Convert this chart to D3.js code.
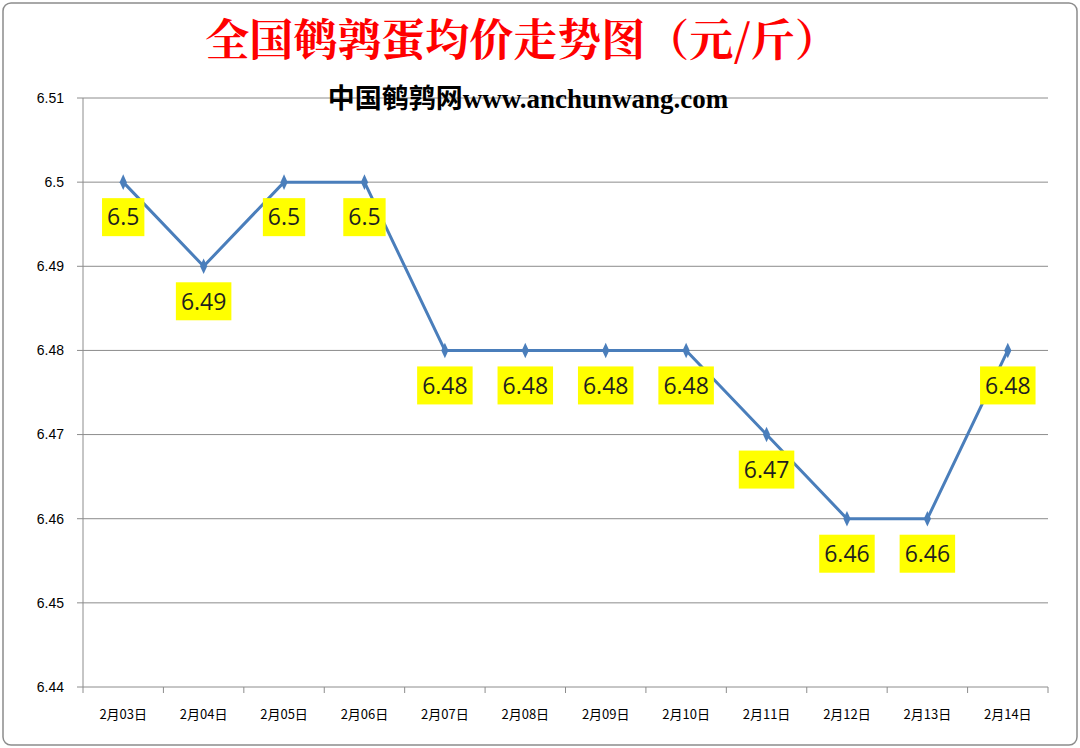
<!DOCTYPE html>
<html><head><meta charset="utf-8">
<script src="https://cdn.jsdelivr.net/npm/d3@7"></script>
<style>body{margin:0;background:#fff}</style>
</head><body>
<script>
const dates = ["2月03日","2月04日","2月05日","2月06日","2月07日","2月08日","2月09日","2月10日","2月11日","2月12日","2月13日","2月14日"];
const prices = [6.5, 6.49, 6.5, 6.5, 6.48, 6.48, 6.48, 6.48, 6.47, 6.46, 6.46, 6.48];
const yTicks = [6.44, 6.45, 6.46, 6.47, 6.48, 6.49, 6.5, 6.51];

const width = 1080, height = 748;
const svg = d3.select("body").append("svg").attr("width", width).attr("height", height);

svg.append("rect").attr("x", 3).attr("y", 3).attr("width", width - 6).attr("height", height - 6)
  .attr("rx", 8).attr("fill", "#fff").attr("stroke", "#8c8c8c").attr("stroke-width", 1.5);

const x = d3.scaleBand().domain(dates).range([83, 1048]);
const y = d3.scaleLinear().domain([6.44, 6.51]).range([687, 98]);

// Gridlines
svg.append("g").selectAll("line").data(yTicks).join("line")
  .attr("x1", 83).attr("x2", 1048)
  .attr("y1", d => y(d)).attr("y2", d => y(d))
  .attr("stroke", "#8c8c8c").attr("stroke-width", 1);

// Y axis
svg.append("line").attr("x1", 83).attr("x2", 83).attr("y1", 98).attr("y2", 687).attr("stroke", "#8c8c8c");
svg.append("g").selectAll("line").data(yTicks).join("line")
  .attr("x1", 77).attr("x2", 83).attr("y1", d => y(d)).attr("y2", d => y(d)).attr("stroke", "#8c8c8c");
svg.append("g").selectAll("text").data(yTicks).join("text")
  .attr("x", 64).attr("y", d => y(d)).attr("dy", "0.35em").attr("text-anchor", "end")
  .style("font", "14px 'Liberation Sans', sans-serif").text(d => d3.format("")(+d.toFixed(2)));

// X axis ticks between categories
svg.append("g").selectAll("line").data(dates.concat(["end"])).join("line")
  .attr("x1", (d, i) => 83 + i * x.step()).attr("x2", (d, i) => 83 + i * x.step())
  .attr("y1", 687).attr("y2", 693).attr("stroke", "#8c8c8c");
svg.append("g").selectAll("text").data(dates).join("text")
  .attr("x", d => x(d) + x.bandwidth() / 2).attr("y", 719).attr("text-anchor", "middle")
  .style("font", "13px 'Noto Sans CJK SC', sans-serif").text(d => d);

// Line
const pts = dates.map((d, i) => [x(d) + x.bandwidth() / 2, y(prices[i])]);
svg.append("path").attr("d", d3.line()(pts)).attr("fill", "none")
  .attr("stroke", "#4a7ebb").attr("stroke-width", 3).attr("stroke-linejoin", "round");
svg.append("g").selectAll("path").data(pts).join("path")
  .attr("d", d3.symbol(d3.symbolDiamond, 70)())
  .attr("transform", d => `translate(${d[0]},${d[1]}) scale(0.8,1)`)
  .attr("fill", "#4a7ebb");

// Labels
const lab = svg.append("g").selectAll("g").data(pts).join("g")
  .attr("transform", d => `translate(${d[0]},${d[1] + 35})`);
lab.append("text").attr("text-anchor", "middle").attr("dy", "0.36em")
  .style("font", "23px 'Open Sans', sans-serif").attr("fill", "#1f1f1f")
  .text((d, i) => prices[i]);
lab.each(function () {
  const g = d3.select(this), b = g.select("text").node().getBBox();
  g.insert("rect", "text").attr("x", b.x - 5).attr("y", -19).attr("width", b.width + 10).attr("height", 38).attr("fill", "#ffff00");
});

// Titles
svg.append("text").attr("x", 522).attr("y", 56).attr("text-anchor", "middle")
  .style("font", "bold 44px 'Noto Serif CJK SC', 'Noto Sans CJK SC', serif").attr("fill", "#ff0000")
  .text("全国鹌鹑蛋均价走势图（元/斤）");
svg.append("text").attr("x", 528).attr("y", 108).attr("text-anchor", "middle")
  .style("font", "bold 27px 'Liberation Serif', 'Noto Sans CJK SC', serif").attr("fill", "#000")
  .text("中国鹌鹑网www.anchunwang.com");
</script>
</body></html>
